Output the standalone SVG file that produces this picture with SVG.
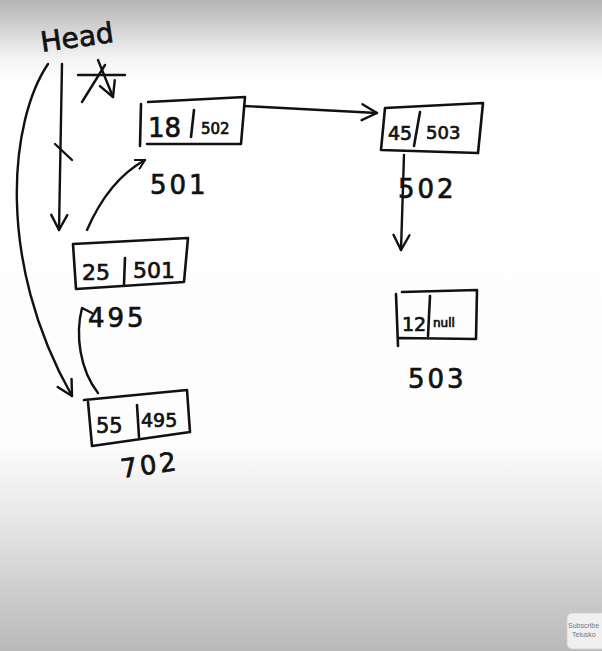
<svg xmlns="http://www.w3.org/2000/svg" width="602" height="651" viewBox="0 0 602 651">
<defs>
<linearGradient id="bg" x1="0" y1="0" x2="0" y2="1">
<stop offset="0" stop-color="#b4b4b4"/>
<stop offset="0.09" stop-color="#f4f4f4"/>
<stop offset="0.13" stop-color="#ffffff"/>
<stop offset="0.68" stop-color="#fdfdfd"/>
<stop offset="0.8" stop-color="#e6e6e6"/>
<stop offset="1" stop-color="#b9b9b9"/>
</linearGradient>
<marker id="ah" viewBox="0 0 12 12" refX="10" refY="6" markerWidth="12" markerHeight="12" markerUnits="userSpaceOnUse" orient="auto">
<path d="M1,1 L10,6 L1,11" fill="none" stroke="#111" stroke-width="2" stroke-linecap="round" stroke-linejoin="round"/>
</marker>
<marker id="ahb" viewBox="0 0 20 20" refX="17" refY="10" markerWidth="20" markerHeight="20" markerUnits="userSpaceOnUse" orient="auto">
<path d="M2,2 L17,10 L2,18" fill="none" stroke="#111" stroke-width="2.4" stroke-linecap="round" stroke-linejoin="round"/>
</marker>
</defs>
<style>
.ln{fill:none;stroke:#111;stroke-width:2.4;stroke-linecap:round;stroke-linejoin:round}
.bx{fill:none;stroke:#111;stroke-width:2.6;stroke-linecap:round;stroke-linejoin:round}
.tv{font-family:"DejaVu Sans","Liberation Sans",sans-serif;fill:#111;stroke:#111;stroke-width:0.7}
.big{font-size:26px}
.sm{font-size:15px}
.lbl{font-size:26px;letter-spacing:3px}
.sub{font-family:"Liberation Sans",sans-serif;font-size:7px;fill:#777}
</style>
<rect x="0" y="0" width="602" height="651" fill="url(#bg)"/>

<g id="head">
<text class="tv" x="42" y="52" font-size="28" transform="rotate(-8 42 52)">Head</text>
</g>

<g id="connectors">
<path class="ln" d="M62,64 L59,230" marker-end="url(#ahb)"/>
<path class="ln" d="M55,144 L72,160"/>
<path class="ln" d="M98,60 L113,97" marker-end="url(#ahb)"/>
<path class="ln" d="M78,75 L125,75"/>
<path class="ln" d="M82,102 L105,65"/>
<path class="ln" d="M48,64 C10,120 -5,260 72,396" marker-end="url(#ahb)"/>
<path class="ln" d="M87,230 C100,200 118,175 145,160" marker-end="url(#ah)"/>
<path class="ln" d="M98,393 C80,370 75,335 82,308 L92,313"/>
<path class="ln" d="M244,106 L377,113" marker-end="url(#ahb)"/>
<path class="ln" d="M404,155 L401,250" marker-end="url(#ahb)"/>
</g>

<g id="node501">
<path class="bx" d="M141,104 L140,146 M148,102 L245,97 L241,144 L147,144"/>
<path class="bx" d="M194,110 L191,137"/>
<text class="tv big" x="148" y="137">18</text>
<text class="tv sm" x="201" y="134">502</text>
<text class="tv lbl" x="150" y="194">501</text>
</g>

<g id="node502">
<path class="bx" d="M385,108 L483,103 L478,153 L381,150 Z"/>
<path class="bx" d="M420,112 L414,146"/>
<text class="tv" x="388" y="140" font-size="19">45</text>
<text class="tv" x="426" y="139" font-size="18">503</text>
<text class="tv lbl" x="398" y="198">502</text>
</g>

<g id="node503">
<path class="bx" d="M396,294 L398,346 M402,292 L477,290 L476,339 L399,338"/>
<path class="bx" d="M430,296 L428,336"/>
<text class="tv" x="402" y="331" font-size="19">12</text>
<text class="tv" x="433" y="327" font-size="12">null</text>
<text class="tv lbl" x="408" y="388">503</text>
</g>

<g id="node495">
<path class="bx" d="M73,244 L188,238 L184,282 L76,289 Z"/>
<path class="bx" d="M125,258 L124,284"/>
<text class="tv" x="82" y="280" font-size="22">25</text>
<text class="tv" x="133" y="278" font-size="22">501</text>
<text class="tv lbl" x="88" y="327">495</text>
</g>

<g id="node702">
<path class="bx" d="M84,400 L187,390 L190,432 L92,446 L88,402"/>
<path class="bx" d="M137,405 L139,437"/>
<text class="tv" x="96" y="433" font-size="21">55</text>
<text class="tv" x="141" y="427" font-size="19">495</text>
<text class="tv lbl" x="122" y="478" transform="rotate(-8 122 478)">702</text>
</g>

<g id="subscribe">
<rect x="567" y="613" width="40" height="36" rx="5" fill="#f0f0f0" stroke="#d0d0d0" stroke-width="0.8"/>
<text class="sub" x="568" y="628">Subscribe</text>
<text class="sub" x="572" y="637">Telusko</text>
</g>
</svg>
